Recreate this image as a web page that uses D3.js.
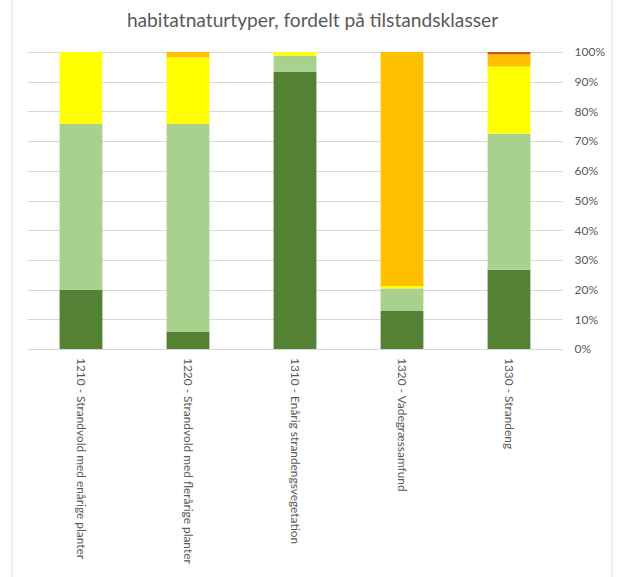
<!DOCTYPE html>
<html><head><meta charset="utf-8">
<script src="https://cdn.jsdelivr.net/npm/d3@7"></script>
<style>body{margin:0;background:#fff}svg{display:block}</style>
</head><body>
<svg id="c" width="619" height="577"></svg>
<script>
const categories = ["1210 - Strandvold med enårige planter","1220 - Strandvold med flerårige planter","1310 - Enårig strandengsvegetation","1320 - Vadegræssamfund","1330 - Strandeng"];
const seriesNames = ["k1","k2","k3","k4","k5"];
const darkGreen  = [20.0, 5.9, 93.4, 12.8, 26.7];
const lightGreen = [55.8, 69.9, 5.4, 7.6, 45.8];
const yellow     = [24.2, 22.4, 1.2, 0.8, 22.6];
const orange     = [0, 1.8, 0, 78.8, 4.1];
const darkOrange = [0, 0, 0, 0, 0.8];
const colors = ["#548235","#A9D18E","#FFFF00","#FFC000","#C55A11"];
const yTicks = [0,10,20,30,40,50,60,70,80,90,100];
const title = "habitatnaturtyper, fordelt på tilstandsklasser";

const rows = categories.map((c,i)=>({cat:c,k1:darkGreen[i],k2:lightGreen[i],k3:yellow[i],k4:orange[i],k5:darkOrange[i]}));
const stack = d3.stack().keys(seriesNames)(rows);

const svg = d3.select("#c");
const font = "Lato, 'Open Sans', sans-serif";
// faint frame lines
svg.append("line").attr("x1",12).attr("x2",12).attr("y1",0).attr("y2",577).attr("stroke","#e4e4e4");
svg.append("line").attr("x1",612).attr("x2",612).attr("y1",0).attr("y2",577).attr("stroke","#e4e4e4");

const x = d3.scaleBand().domain(categories).range([27.5,562.5]).paddingInner(0.6).paddingOuter(0.3);
const y = d3.scaleLinear().domain([0,100]).range([349,52]);

const yAxis = svg.append("g").attr("transform","translate(562.5,0)")
  .call(d3.axisRight(y).tickValues(yTicks).tickFormat(d=>d+"%").tickSize(0).tickPadding(12));
yAxis.select(".domain").remove();
yAxis.selectAll("text").attr("fill","#595959").style("font-family",font).style("font-size","12px");

svg.append("g").selectAll("line").data(yTicks).join("line")
  .attr("x1",27.5).attr("x2",562.5).attr("y1",d=>Math.round(y(d))+0.5).attr("y2",d=>Math.round(y(d))+0.5)
  .attr("stroke","#d9d9d9").attr("stroke-width",1);

svg.append("g").selectAll("g").data(stack).join("g").attr("fill",(d,i)=>colors[i])
  .selectAll("rect").data(d=>d).join("rect")
  .attr("x",d=>x(d.data.cat)).attr("width",x.bandwidth())
  .attr("y",d=>y(d[1])).attr("height",d=>y(d[0])-y(d[1]));

svg.append("g").selectAll("text").data(categories).join("text")
  .attr("transform",d=>`translate(${x(d)+x.bandwidth()/2},358) rotate(90)`)
  .attr("dy","0.35em").attr("fill","#595959")
  .style("font-family",font).style("font-size","11.9px").text(d=>d);

svg.append("text").attr("x",312.5).attr("y",27).attr("text-anchor","middle")
  .attr("fill","#595959").style("font-family",font).style("font-size","19.2px").text(title);
</script>
</body></html>
